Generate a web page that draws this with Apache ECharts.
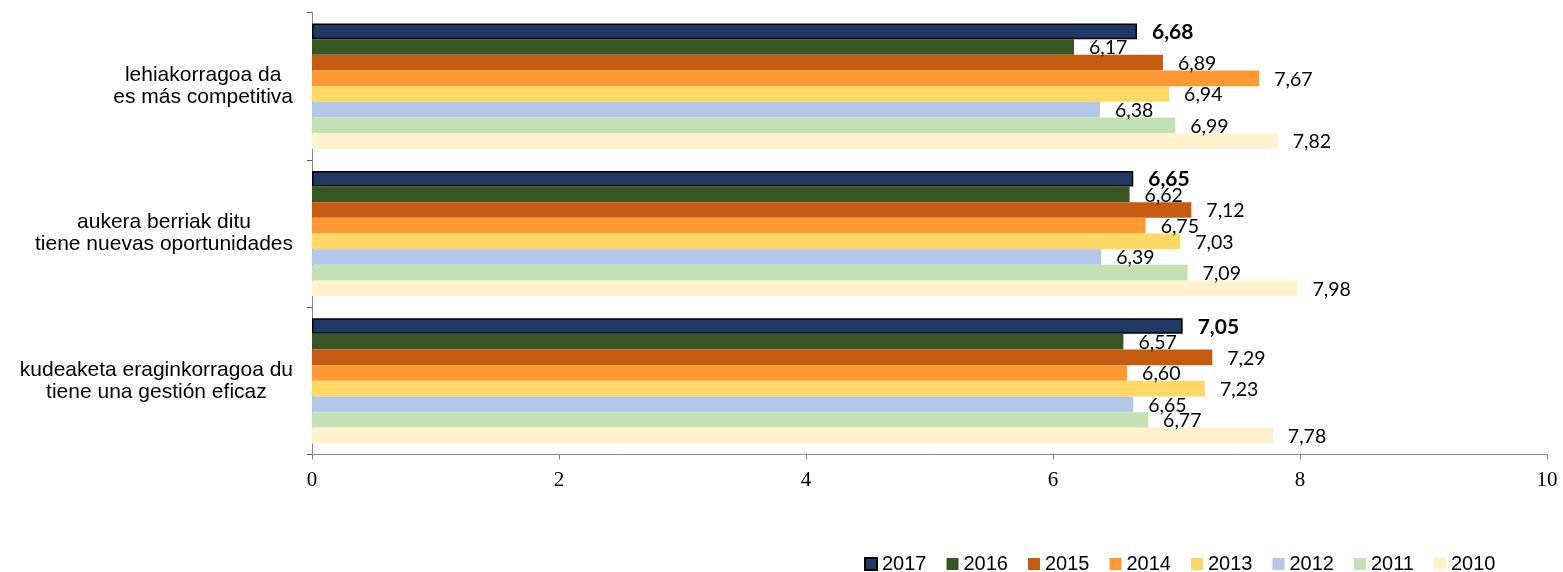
<!DOCTYPE html>
<html>
<head>
<meta charset="utf-8">
<title>Ikuspegiak / Percepciones</title>
<script src="https://cdn.jsdelivr.net/npm/echarts@6/dist/echarts.min.js"></script>
<style>
  html, body { margin: 0; padding: 0; background: #ffffff; }
  #chart { width: 1563px; height: 572px; }
</style>
</head>
<body>
<div id="chart"></div>
<script>
// Statements (Basque / Spanish), top to bottom
const categories = [
  'lehiakorragoa da\nes más competitiva',
  'aukera berriak ditu\ntiene nuevas oportunidades',
  'kudeaketa eraginkorragoa du\ntiene una gestión eficaz'
];

const years = ['2017', '2016', '2015', '2014', '2013', '2012', '2011', '2010'];

// Average score per statement, one array per year
const v2017 = [6.68, 6.65, 7.05];
const v2016 = [6.17, 6.62, 6.57];
const v2015 = [6.89, 7.12, 7.29];
const v2014 = [7.67, 6.75, 6.60];
const v2013 = [6.94, 7.03, 7.23];
const v2012 = [6.38, 6.39, 6.65];
const v2011 = [6.99, 7.09, 6.77];
const v2010 = [7.82, 7.98, 7.78];

const xTicks = { min: 0, max: 10, interval: 2 };

const seriesValues = [v2017, v2016, v2015, v2014, v2013, v2012, v2011, v2010];
const colors = ['#1F3864', '#375623', '#C55A11', '#FF9933', '#FFD966', '#B4C7E7', '#C5E0B4', '#FFF2CC'];

const fmt = v => v.toFixed(2).replace('.', ',');

const series = years.map((y, i) => ({
  name: y,
  type: 'bar',
  data: seriesValues[i],
  barGap: '0%',
  barCategoryGap: '15%',
  itemStyle: i === 0
    ? { color: colors[i], borderColor: '#000000', borderWidth: 1.5 }
    : { color: colors[i] },
  label: {
    show: true,
    position: 'right',
    distance: 15,
    offset: [0, 1],
    formatter: p => fmt(p.value),
    color: '#000000',
    fontFamily: 'Lato, "Open Sans", sans-serif',
    fontSize: i === 0 ? 21 : 19.5,
    fontWeight: i === 0 ? 'bold' : 'normal'
  },
  emphasis: { disabled: true }
}));

const chart = echarts.init(document.getElementById('chart'), null, { renderer: 'canvas' });
chart.setOption({
  backgroundColor: '#ffffff',
  animation: false,
  color: colors,
  grid: { left: 312, right: 16, top: 12.5, bottom: 117.5, containLabel: false },
  legend: {
    data: years,
    left: 859,
    top: 549,
    itemWidth: 12,
    itemHeight: 12,
    itemGap: 20,
    icon: 'rect',
    textStyle: {
      fontFamily: '"Liberation Sans", Arial, sans-serif',
      fontSize: 20,
      color: '#000000'
    }
  },
  xAxis: {
    type: 'value',
    min: xTicks.min,
    max: xTicks.max,
    interval: xTicks.interval,
    axisLine: { show: true, lineStyle: { color: '#868686', width: 1 } },
    axisTick: { show: true, length: 5, lineStyle: { color: '#868686' } },
    splitLine: { show: false },
    axisLabel: {
      margin: 15,
      color: '#000000',
      fontFamily: '"Liberation Serif", "Times New Roman", serif',
      fontSize: 21,
      formatter: v => String(v)
    }
  },
  yAxis: {
    type: 'category',
    data: categories,
    inverse: true,
    axisLine: { show: true, lineStyle: { color: '#868686', width: 1 } },
    axisTick: { show: true, length: 5, lineStyle: { color: '#595959' } },
    splitLine: { show: false },
    axisLabel: {
      margin: 19,
      formatter: v => v.split('\n').map(s => '{c|' + s + '}').join('\n'),
      rich: {
        c: {
          align: 'center',
          color: '#000000',
          fontFamily: '"Liberation Sans", Arial, sans-serif',
          fontSize: 21,
          lineHeight: 22
        }
      }
    }
  },
  series: series
});
</script>
</body>
</html>
